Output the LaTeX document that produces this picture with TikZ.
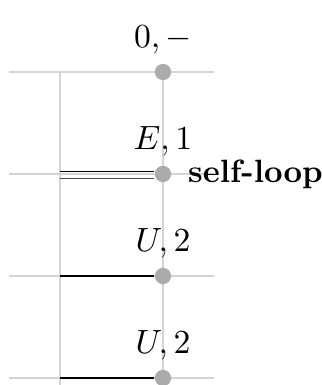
\documentclass[tikz,border=0pt]{standalone}
\usepackage{amsmath}
\usepackage{tikz}
\usetikzlibrary{positioning}

\begin{document}
\begin{tikzpicture}[
    x=0.3255pt, y=-0.3255pt,
    font=\fontsize{10.5}{12.6}\selectfont,
    dot/.style={circle, fill=black!33, inner sep=0pt, minimum size=5.3pt},
    grid/.style={black!17, line width=0.4pt},
    bond/.style={line width=0.55pt},
    lab/.style={above=-0.4pt of #1}
]
\useasboundingbox (0,0) rectangle (322,385);
% grid
\foreach \y in {72,174,276,378}
    \draw[grid] (9,\y) -- (214,\y);
\draw[grid] (60,72) -- (60,385);
\draw[grid] (163,72) -- (163,385);

% atoms
\node[dot] (v0) at (163,72) {};
\node[dot] (v1) at (163,174) {};
\node[dot] (v2) at (163,276) {};
\node[dot] (v3) at (163,378) {};
\coordinate (h1a) at (60,171.5);
\coordinate (h1b) at (60,178.5);
\coordinate (h2) at (60,276);
\coordinate (h3) at (60,378);

\node[lab=v0] (l0) {$0,-$};
\node[lab=v1] (l1) {$E,1$};
\node[lab=v2] (l2) {$U,2$};
\node[lab=v3] (l3) {$U,2$};
\node[right=1.8pt of v1, font=\fontsize{10.5}{12.6}\selectfont\bfseries] (loop) {self-loop};

% bonds
\draw[bond] (h1a) -- (h1a -| v1.west);
\draw[bond, black!70] (h1b) -- (h1b -| v1.west);
\draw[bond] (h2) -- (v2);
\draw[bond] (h3) -- (v3);
\end{tikzpicture}
\end{document}
